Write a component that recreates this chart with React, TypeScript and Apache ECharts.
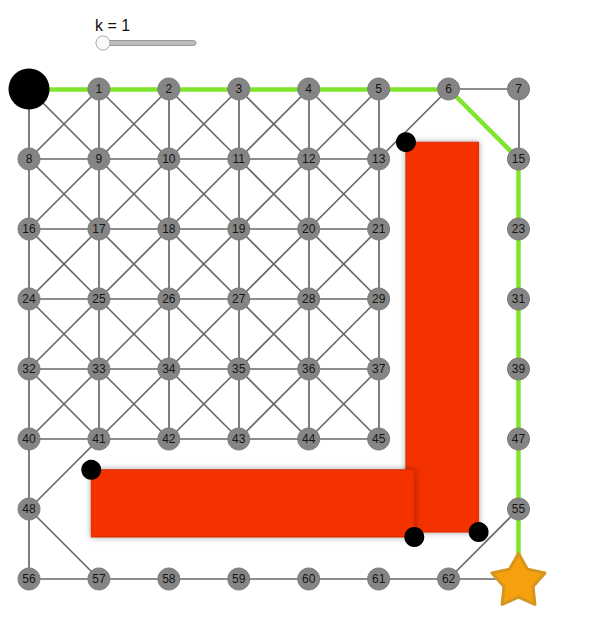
import { useEffect, useRef } from 'react';
import * as echarts from 'echarts';

// grid graph: 8 x 8 nodes, numbered row by row
const COLS = 8;
const ROWS = 8;
// nodes covered by the obstacles
const BLOCKED = [14, 22, 30, 38, 46, 54, 49, 50, 51, 52, 53];
// shortest path found for k = 1
const PATH = [0, 1, 2, 3, 4, 5, 6, 15, 23, 31, 39, 47, 55, 63];
const START = 0;
const GOAL = 63;
const K_VALUE = 1;
// obstacles in grid units: [x0, y0, x1, y1]
const OBSTACLES = [
  [5.39, 0.76, 6.43, 6.33],
  [0.89, 5.44, 5.51, 6.4],
];

function starPath(): string {
  const pts: string[] = [];
  for (let i = 0; i < 10; i++) {
    const a = -Math.PI / 2 + (i * Math.PI) / 5;
    const rad = i % 2 === 0 ? 1 : 0.55;
    pts.push(`${(Math.cos(a) * rad).toFixed(4)} ${(Math.sin(a) * rad).toFixed(4)}`);
  }
  return 'path://M' + pts.join(' L') + ' Z';
}

export default function App() {
  const chartRef = useRef<HTMLDivElement>(null);

  useEffect(() => {
    if (!chartRef.current) return;
    document.body.style.margin = '0';
    const chart = echarts.init(chartRef.current, null, { renderer: 'svg' });

    const blocked = new Set(BLOCKED);
    const key = (a: number, b: number) => `${Math.min(a, b)}-${Math.max(a, b)}`;
    const pathKeys = new Set<string>();
    for (let i = 1; i < PATH.length; i++) pathKeys.add(key(PATH[i - 1], PATH[i]));

    const nodes: any[] = [];
    for (let id = 0; id < COLS * ROWS; id++) {
      if (blocked.has(id)) continue;
      const c = id % COLS;
      const r = Math.floor(id / COLS);
      const node: any = { name: String(id), value: [c, r] };
      if (id === START) {
        node.symbolSize = 41;
        node.itemStyle = { color: '#000000', borderWidth: 0 };
        node.label = { show: false };
      } else if (id === GOAL) {
        node.symbol = starPath();
        node.symbolSize = [53, 51];
        node.itemStyle = {
          color: '#f5a00c',
          borderColor: '#d6951f',
          borderWidth: 3,
          borderJoin: 'round',
        };
        node.label = { show: false };
      }
      nodes.push(node);
    }

    const grayLinks: any[] = [];
    for (let id = 0; id < COLS * ROWS; id++) {
      if (blocked.has(id)) continue;
      const c = id % COLS;
      const r = Math.floor(id / COLS);
      const nbrs = [
        [c + 1, r],
        [c, r + 1],
        [c + 1, r + 1],
        [c - 1, r + 1],
      ];
      nbrs.forEach(([nc, nr]) => {
        if (nc < 0 || nc >= COLS || nr >= ROWS) return;
        const nid = nr * COLS + nc;
        if (blocked.has(nid)) return;
        if (pathKeys.has(key(id, nid))) return;
        grayLinks.push({ source: String(id), target: String(nid) });
      });
    }
    const pathLinks = PATH.slice(1).map((id, i) => ({
      source: String(PATH[i]),
      target: String(id),
      lineStyle: { color: '#7ee42c', width: 4.5 },
    }));

    const corners: number[][] = [];
    OBSTACLES.forEach(([x0, y0, x1, y1]) => {
      corners.push([x0, y0]);
      corners.push([x1, y1]);
    });

    chart.setOption({
      animation: false,
      backgroundColor: '#ffffff',
      grid: { left: 29, right: 71.5, top: 89, bottom: 39 },
      xAxis: { type: 'value', min: 0, max: COLS - 1, show: false },
      yAxis: { type: 'value', min: 0, max: ROWS - 1, inverse: true, show: false },
      graphic: [
        {
          type: 'text',
          left: 95,
          top: 17,
          style: {
            text: `k = ${K_VALUE}`,
            font: '16px "Liberation Sans", Arial, sans-serif',
            fill: '#111111',
          },
        },
        {
          type: 'rect',
          shape: { x: 97, y: 40.5, width: 99, height: 5, r: 2.5 },
          style: { fill: '#bdbdbd', stroke: '#9a9a9a', lineWidth: 1 },
        },
        {
          type: 'circle',
          shape: { cx: 103, cy: 43, r: 7 },
          style: { fill: '#fbfbfb', stroke: '#a8a8a8', lineWidth: 1 },
        },
      ],
      series: [
        {
          type: 'graph',
          coordinateSystem: 'cartesian2d',
          layout: 'none',
          z: 2,
          symbol: 'circle',
          symbolSize: 22,
          itemStyle: { color: '#858585', borderColor: '#7a7a7a', borderWidth: 1 },
          label: {
            show: true,
            position: 'inside',
            formatter: '{b}',
            fontSize: 12,
            color: '#151515',
            fontFamily: '"Liberation Sans", Arial, sans-serif',
          },
          lineStyle: { color: '#686868', width: 1.7, opacity: 1 },
          emphasis: { disabled: true },
          data: nodes,
          links: [...grayLinks, ...pathLinks],
        },
        {
          type: 'custom',
          z: 3,
          silent: true,
          data: OBSTACLES,
          renderItem: (_params: any, api: any) => {
            const p0 = api.coord([api.value(0), api.value(1)]);
            const p1 = api.coord([api.value(2), api.value(3)]);
            return {
              type: 'rect',
              shape: { x: p0[0], y: p0[1], width: p1[0] - p0[0], height: p1[1] - p0[1] },
              style: {
                fill: '#f33000',
                stroke: '#d22c06',
                lineWidth: 1,
                shadowBlur: 6,
                shadowColor: 'rgba(0,0,0,0.35)',
              },
            };
          },
        },
        {
          type: 'scatter',
          z: 4,
          silent: true,
          symbolSize: 20,
          itemStyle: { color: '#000000', opacity: 1 },
          data: corners,
        },
      ],
    });

    return () => {
      chart.dispose();
    };
  }, []);

  return <div ref={chartRef} style={{ width: '590px', height: '618px' }} />;
}
